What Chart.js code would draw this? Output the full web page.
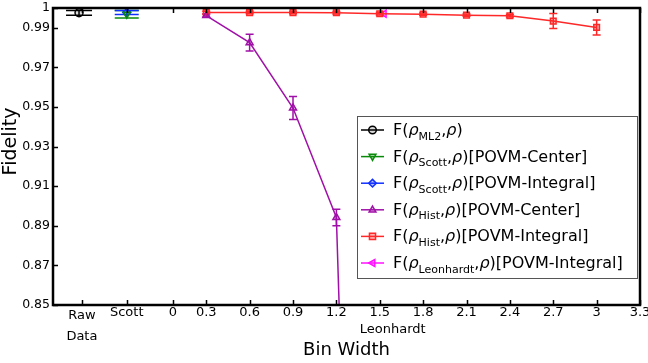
<!DOCTYPE html>
<html>
<head>
<meta charset="utf-8">
<script src="https://cdn.jsdelivr.net/npm/chart.js@4.4.0/dist/chart.umd.min.js"></script>
<style>
  html, body { margin: 0; padding: 0; background: #fff; }
</style>
</head>
<body>
<canvas id="fidChart" width="648" height="363"></canvas>
<script>
// x positions of the special columns (Raw data / Scott) and the bin widths
var rawX = [-0.58];
var scottX = [-0.25];
var leonX = [1.53];
var binWidths = [0.3, 0.6, 0.9, 1.2, 1.5, 1.8, 2.1, 2.4, 2.7, 3];

// fidelities and error bars
var rawF = [0.9976];
var rawErr = [0.0012];
var scottCenterF = [0.9969];
var scottCenterErr = [0.0019];
var scottIntF = [0.9977];
var scottIntErr = [0.001];
var histCenterF = [0.9962, 0.9825, 0.9495, 0.8942, 0.20];
var histCenterErr = [0.0008, 0.0042, 0.0058, 0.0042, 0];
var histIntF = [0.9977, 0.9977, 0.9977, 0.9976, 0.9971, 0.9969, 0.9964, 0.9961, 0.9934, 0.9902];
var histIntErr = [0.0007, 0.0006, 0.0006, 0.0006, 0.0006, 0.0006, 0.0006, 0.0006, 0.0038, 0.0038];
var leonF = [0.9971];
var leonErr = [0];

// tick labels
var xTickVals = [-0.56, -0.25, 0.07, 0.3, 0.6, 0.9, 1.2, 1.5, 1.59, 1.8, 2.1, 2.4, 2.7, 3, 3.3];
var xTickLabels = [["Raw", "Data"], "Scott", "0", "0.3", "0.6", "0.9", "1.2", "1.5", ["", "Leonhardt"], "1.8", "2.1", "2.4", "2.7", "3", "3.3"];
var yTickVals = [0.85, 0.87, 0.89, 0.91, 0.93, 0.95, 0.97, 0.99, 1];
var yTickLabels = ["0.85", "0.87", "0.89", "0.91", "0.93", "0.95", "0.97", "0.99", "1"];

// legend text pieces
var legSubs = ["ML2", "Scott", "Scott", "Hist", "Hist", "Leonhardt"];
var legSuffix = ["", "[POVM-Center]", "[POVM-Integral]", "[POVM-Center]", "[POVM-Integral]", "[POVM-Integral]"];

function pts(xs, ys) {
  return ys.map(function (v, i) { return { x: xs[i], y: v }; });
}

Chart.defaults.font.family = "'DejaVu Sans', sans-serif";
Chart.defaults.color = "#000";

function drawMarker(ctx, style, x, y, r, rot) {
  ctx.save();
  ctx.translate(x, y);
  ctx.rotate((rot || 0) * Math.PI / 180);
  ctx.beginPath();
  if (style === "circle") ctx.arc(0, 0, r, 0, Math.PI * 2);
  else if (style === "rect") ctx.rect(-r * 0.8, -r * 0.8, r * 1.6, r * 1.6);
  else if (style === "rectRot") { ctx.moveTo(0, -r); ctx.lineTo(r, 0); ctx.lineTo(0, r); ctx.lineTo(-r, 0); ctx.closePath(); }
  else { ctx.moveTo(0, -r); ctx.lineTo(r * 0.9, r * 0.6); ctx.lineTo(-r * 0.9, r * 0.6); ctx.closePath(); }
  ctx.fill();
  ctx.stroke();
  ctx.restore();
}

var errBars = {
  id: "errBars",
  beforeDatasetsDraw: function (chart) {
    var ctx = chart.ctx, x = chart.scales.x, y = chart.scales.y, ca = chart.chartArea;
    ctx.save();
    ctx.beginPath();
    ctx.rect(ca.left, ca.top, ca.right - ca.left, ca.bottom - ca.top);
    ctx.clip();
    chart.data.datasets.forEach(function (ds) {
      if (!ds.err) return;
      ctx.strokeStyle = ds.borderColor;
      ctx.lineWidth = 1.5;
      ctx.beginPath();
      ds.data.forEach(function (p, j) {
        var e = ds.err[j];
        if (!e) return;
        var px = x.getPixelForValue(p.x);
        var y1 = y.getPixelForValue(p.y + e), y2 = y.getPixelForValue(p.y - e);
        var w = ds.cap;
        ctx.moveTo(px, y1); ctx.lineTo(px, y2);
        ctx.moveTo(px - w, y1); ctx.lineTo(px + w, y1);
        ctx.moveTo(px - w, y2); ctx.lineTo(px + w, y2);
      });
      ctx.stroke();
    });
    ctx.restore();
  }
};

// inward tick marks, thick frame and the y title
var frame = {
  id: "frame",
  afterDatasetsDraw: function (chart) {
    var ctx = chart.ctx, x = chart.scales.x, y = chart.scales.y, ca = chart.chartArea;
    ctx.save();
    ctx.strokeStyle = "#000";
    ctx.lineWidth = 1.5;
    ctx.beginPath();
    x.ticks.forEach(function (t, i) {
      if (Array.isArray(xTickLabels[i]) && xTickLabels[i][0] === "") return;
      var px = Math.round(x.getPixelForValue(t.value)) + 0.5;
      ctx.moveTo(px, ca.bottom); ctx.lineTo(px, ca.bottom - 5);
      ctx.moveTo(px, ca.top); ctx.lineTo(px, ca.top + 5);
    });
    y.ticks.forEach(function (t) {
      var py = Math.round(y.getPixelForValue(t.value)) + 0.5;
      ctx.moveTo(ca.left, py); ctx.lineTo(ca.left + 5, py);
    });
    ctx.stroke();
    ctx.lineWidth = 2.5;
    ctx.strokeRect(ca.left, ca.top, ca.right - ca.left, ca.bottom - ca.top);

    ctx.translate(11, ca.top + (ca.bottom - ca.top) / 2 - 15);
    ctx.rotate(-Math.PI / 2);
    ctx.font = "19px 'DejaVu Sans'";
    ctx.fillStyle = "#000";
    ctx.textAlign = "center";
    ctx.textBaseline = "middle";
    ctx.fillText("Fidelity", 0, 0);
    ctx.restore();
  }
};

var legendBox = {
  id: "legendBox",
  afterDraw: function (chart) {
    var ctx = chart.ctx, ca = chart.chartArea;
    var bw = 280, bh = 162;
    var bx = ca.right - 3 - bw, by = ca.bottom - 27 - bh;
    ctx.save();
    ctx.fillStyle = "#fff";
    ctx.fillRect(bx, by, bw, bh);
    ctx.strokeStyle = "#555";
    ctx.lineWidth = 1;
    ctx.strokeRect(bx + 0.5, by + 0.5, bw, bh);
    chart.data.datasets.forEach(function (ds, i) {
      var cy = by + 14 + i * 26.6;
      ctx.strokeStyle = ds.borderColor;
      ctx.fillStyle = ds.pointBackgroundColor;
      ctx.lineWidth = 1.5;
      ctx.beginPath();
      ctx.moveTo(bx + 4, cy); ctx.lineTo(bx + 27, cy);
      ctx.stroke();
      drawMarker(ctx, ds.pointStyle, bx + 15.5, cy, 3.8, ds.pointRotation);
      // text with subscript
      var tx = bx + 36, base = cy + 5;
      ctx.fillStyle = "#000";
      ctx.textBaseline = "alphabetic";
      var main = "16px 'DejaVu Sans'", ital = "italic 16px 'DejaVu Sans'", sub = "11px 'DejaVu Sans'";
      var parts = [[main, "F(", 0], [ital, "\u03c1", 0], [sub, legSubs[i], 4.5], [main, ",", 0], [ital, "\u03c1", 0], [main, ")" + legSuffix[i], 0]];
      parts.forEach(function (p) {
        ctx.font = p[0];
        ctx.fillText(p[1], tx, base + p[2]);
        tx += ctx.measureText(p[1]).width;
      });
    });
    ctx.restore();
  }
};

new Chart(document.getElementById("fidChart"), {
  type: "line",
  data: {
    datasets: [
      { label: "F(rho_ML2, rho)", data: pts(rawX, rawF), err: rawErr, cap: 13,
        borderColor: "#000000", pointBackgroundColor: "rgba(0,0,0,0.15)", pointStyle: "circle" },
      { label: "F(rho_Scott, rho)[POVM-Center]", data: pts(scottX, scottCenterF), err: scottCenterErr, cap: 12,
        borderColor: "#0a8a0a", pointBackgroundColor: "rgba(10,138,10,0.3)", pointStyle: "triangle", pointRotation: 180 },
      { label: "F(rho_Scott, rho)[POVM-Integral]", data: pts(scottX, scottIntF), err: scottIntErr, cap: 12,
        borderColor: "#1030ff", pointBackgroundColor: "rgba(16,48,255,0.3)", pointStyle: "rectRot" },
      { label: "F(rho_Hist, rho)[POVM-Center]", data: pts(binWidths, histCenterF), err: histCenterErr, cap: 4,
        borderColor: "#a010a8", pointBackgroundColor: "rgba(160,16,168,0.3)", pointStyle: "triangle" },
      { label: "F(rho_Hist, rho)[POVM-Integral]", data: pts(binWidths, histIntF), err: histIntErr, cap: 4,
        borderColor: "#ff2828", pointBackgroundColor: "rgba(255,40,40,0.35)", pointStyle: "rect" },
      { label: "F(rho_Leonhardt, rho)[POVM-Integral]", data: pts(leonX, leonF), err: leonErr, cap: 4,
        borderColor: "#ff10ff", pointBackgroundColor: "rgba(255,16,255,0.3)", pointStyle: "triangle", pointRotation: -90 }
    ]
  },
  options: {
    responsive: false,
    animation: false,
    layout: { padding: { top: 8, right: 8, left: 0, bottom: 0 } },
    elements: {
      line: { borderWidth: 1.5, tension: 0 },
      point: { radius: 4, borderWidth: 1.5, hoverRadius: 4 }
    },
    plugins: { legend: { display: false }, tooltip: { enabled: false } },
    scales: {
      x: {
        type: "linear", min: -0.76, max: 3.3,
        grid: { display: false, drawTicks: false }, border: { display: false },
        afterBuildTicks: function (s) { s.ticks = xTickVals.map(function (v) { return { value: v }; }); },
        afterFit: function (s) { s.height = 58; s.paddingLeft = 0; s.paddingRight = 0; },
        ticks: {
          autoSkip: false, maxRotation: 0, padding: 0,
          font: function (c) {
            var lh = c.index === 0 ? 1.6 : (c.index === 8 ? 1.25 : 1.2);
            return { size: 13, lineHeight: lh };
          },
          callback: function (v, i) { return xTickLabels[i]; }
        },
        title: { display: true, text: "Bin Width", font: { size: 18 }, padding: { top: 0, bottom: 2 } }
      },
      y: {
        type: "linear", min: 0.85, max: 1,
        grid: { display: false, drawTicks: false }, border: { display: false },
        afterBuildTicks: function (s) { s.ticks = yTickVals.map(function (v) { return { value: v }; }); },
        afterFit: function (s) { s.width = 53; s.paddingTop = 0; s.paddingBottom = 0; },
        ticks: {
          padding: 3, font: { size: 12.5 },
          callback: function (v, i) { return yTickLabels[i]; }
        }
      }
    }
  },
  plugins: [errBars, frame, legendBox]
});
</script>
</body>
</html>
